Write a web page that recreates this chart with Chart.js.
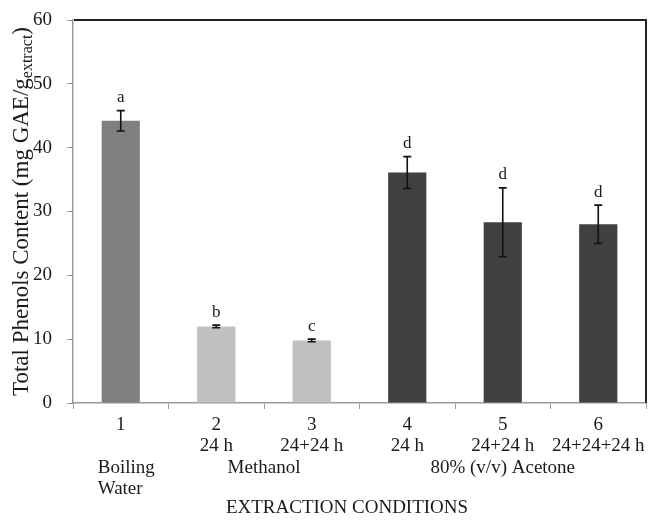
<!DOCTYPE html>
<html>
<head>
<meta charset="utf-8">
<script src="https://cdn.jsdelivr.net/npm/chart.js@4.4.1/dist/chart.umd.min.js"></script>
<style>
  body { margin: 0; background: #fff; }
  #wrap { width: 649px; height: 521px; }
</style>
</head>
<body>
<div id="wrap"><canvas id="barChart"></canvas></div>
<script>
// extraction conditions (x categories)
var conditions = ["1", "2", "3", "4", "5", "6"];
var durations = ["", "24 h", "24+24 h", "24 h", "24+24 h", "24+24+24 h"];
// total phenols, mg GAE / g extract
var phenols = [44.2, 12.0, 9.8, 36.1, 28.3, 28.0];
var phenolsSd = [1.6, 0.2, 0.2, 2.5, 5.4, 3.0];
var letters = ["a", "b", "c", "d", "d", "d"];
// solvent groups: name, first and last category index
var groupNames = ["Boiling\nWater", "Methanol", "80% (v/v) Acetone"];
var groupFirst = [0, 1, 3];
var groupLast = [0, 2, 5];
var yTicks = [0, 10, 20, 30, 40, 50, 60];

var barColors = ["#7f7f7f", "#c0c0c0", "#c0c0c0", "#404040", "#404040", "#404040"];
var serif = "'Liberation Serif', 'Times New Roman', serif";
var ink = "#1a1a1a";

var extras = {
  id: "extras",
  afterDatasetsDraw: function (chart) {
    var c = chart.ctx, x = chart.scales.x, y = chart.scales.y;
    c.save();
    c.strokeStyle = "#111";
    c.lineWidth = 1.6;
    c.fillStyle = ink;
    c.font = "17px " + serif;
    c.textAlign = "center";
    c.textBaseline = "middle";
    for (var i = 0; i < phenols.length; i++) {
      var px = x.getPixelForValue(i);
      var top = y.getPixelForValue(phenols[i] + phenolsSd[i]);
      var bot = y.getPixelForValue(phenols[i] - phenolsSd[i]);
      c.beginPath();
      c.moveTo(px, top); c.lineTo(px, bot);
      c.moveTo(px - 4, top); c.lineTo(px + 4, top);
      c.moveTo(px - 4, bot); c.lineTo(px + 4, bot);
      c.stroke();
      c.fillText(letters[i], px, top - 13);
    }
    c.restore();
  },
  afterDraw: function (chart) {
    var c = chart.ctx, a = chart.chartArea, x = chart.scales.x;
    c.save();
    // top and right frame
    c.strokeStyle = "#222";
    c.lineWidth = 2;
    c.beginPath();
    c.moveTo(a.left + 1, a.top);
    c.lineTo(a.right, a.top);
    c.lineTo(a.right, a.bottom);
    c.stroke();

    // solvent group labels
    c.fillStyle = ink;
    c.font = "19px " + serif;
    c.textBaseline = "middle";
    for (var g = 0; g < groupNames.length; g++) {
      var lines = groupNames[g].split("\n");
      var cx = (x.getPixelForValue(groupFirst[g]) + x.getPixelForValue(groupLast[g])) / 2;
      if (lines.length > 1) {
        c.textAlign = "left";
        cx -= 23;
      } else {
        c.textAlign = "center";
      }
      for (var k = 0; k < lines.length; k++) {
        c.fillText(lines[k], cx, 468 + k * 21);
      }
    }

    // x axis title
    c.textAlign = "center";
    c.fillText("EXTRACTION CONDITIONS", 347, 508);

    // y axis title with subscript
    var main = "Total Phenols Content (mg GAE/g", sub = "extract", tail = ")";
    var fMain = "23px " + serif, fSub = "16px " + serif;
    c.font = fMain;
    var w1 = c.measureText(main).width, w3 = c.measureText(tail).width;
    c.font = fSub;
    var w2 = c.measureText(sub).width;
    var total = w1 + w2 + w3;
    var cy = (a.top + a.bottom) / 2;
    c.translate(28, cy);
    c.rotate(-Math.PI / 2);
    c.textAlign = "left";
    c.textBaseline = "alphabetic";
    var sx = -total / 2;
    c.font = fMain;
    c.fillText(main, sx, 0);
    c.font = fSub;
    c.fillText(sub, sx + w1, 4);
    c.font = fMain;
    c.fillText(tail, sx + w1 + w2, 0);
    c.restore();
  }
};

var ctx = document.getElementById("barChart").getContext("2d");
var chart = new Chart(ctx, {
  type: "bar",
  data: {
    labels: conditions.map(function (c, i) {
      return durations[i] ? [c, durations[i]] : [c];
    }),
    datasets: [
      {
        data: phenols,
        backgroundColor: barColors,
        borderWidth: 0,
        barPercentage: 0.4,
        categoryPercentage: 1,
      },
    ],
  },
  options: {
    responsive: true,
    maintainAspectRatio: false,
    animation: false,
    layout: { padding: { top: 20, right: 3, left: 0, bottom: 0 } },
    plugins: {
      legend: { display: false },
      tooltip: { enabled: false },
    },
    scales: {
      x: {
        afterFit: function (s) {
          s.height = 118;
          s.paddingLeft = 0;
          s.paddingRight = 0;
        },
        grid: {
          offset: true,
          drawOnChartArea: false,
          tickLength: 6,
          color: "#9a9a9a",
        },
        border: { color: "#9a9a9a", width: 1.5 },
        ticks: {
          color: ink,
          padding: 6,
          maxRotation: 0,
          autoSkip: false,
          font: { family: serif, size: 19, lineHeight: 1.1 },
        },
      },
      y: {
        min: 0,
        max: 60,
        afterFit: function (s) {
          s.width = 73;
          s.paddingTop = 0;
          s.paddingBottom = 0;
        },
        afterBuildTicks: function (s) {
          s.ticks = yTicks.map(function (v) { return { value: v }; });
        },
        grid: {
          drawOnChartArea: false,
          tickLength: 6,
          color: "#9a9a9a",
        },
        border: { color: "#9a9a9a", width: 1.5 },
        ticks: {
          color: ink,
          padding: 15,
          font: { family: serif, size: 19 },
        },
      },
    },
  },
  plugins: [extras],
});
</script>
</body>
</html>
